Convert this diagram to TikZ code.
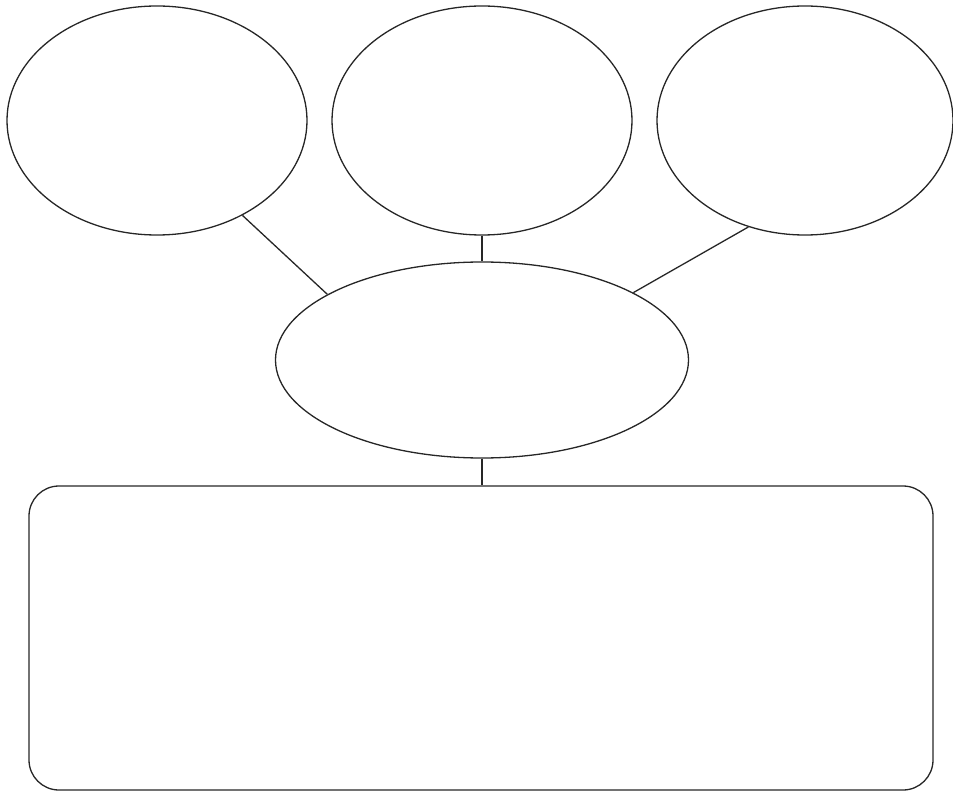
\documentclass[tikz,border=0pt]{standalone}
\usetikzlibrary{shapes.geometric}
\begin{document}
\begin{tikzpicture}[x=1pt,y=-1pt,
  bubble/.style={ellipse,draw=black!85,line width=1.3pt,inner sep=0pt},
  panel/.style={rectangle,draw=black!85,line width=1.3pt,rounded corners=30pt,inner sep=0pt,minimum width=904pt,minimum height=304pt},
  link/.style={draw=black!85,line width=1.3pt}]
\useasboundingbox (0,0) rectangle (953,794);
\node[bubble,minimum width=300pt,minimum height=229pt] (l) at (157,120.5) {};
\node[bubble,minimum width=300pt,minimum height=229pt] (m) at (482,120.5) {};
\node[bubble,minimum width=296pt,minimum height=229pt] (r) at (805,120.5) {};
\node[bubble,minimum width=413pt,minimum height=196pt] (c) at (482,360) {};
\node[panel] (p) at (481,638) {};
\draw[link] (l.-48) -- (c.157);
\draw[link] (m.south) -- (c.north);
\draw[link] (r.-118) -- (c.24);
\draw[link] (c.south) -- (c.south |- p.north);
\end{tikzpicture}
\end{document}
